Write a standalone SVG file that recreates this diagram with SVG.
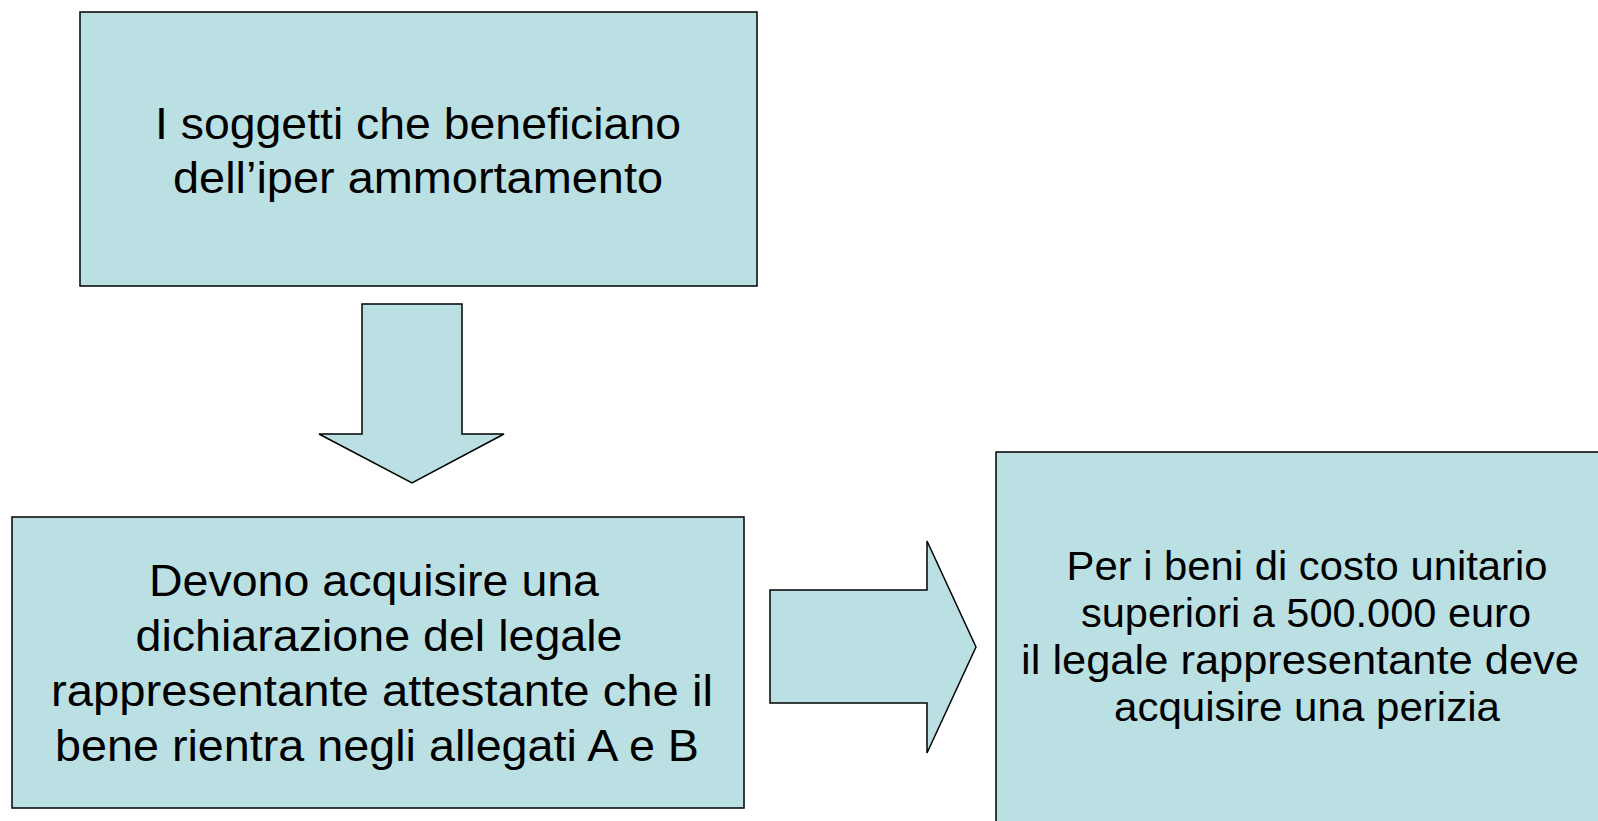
<svg xmlns="http://www.w3.org/2000/svg" width="1598" height="821" viewBox="0 0 1598 821">
<style>
.box{fill:#BBE0E3;stroke:#000;stroke-width:1.5}
.t{font-family:"Liberation Sans",Arial,sans-serif;fill:#000;text-anchor:middle}
.big{font-size:45px}
.small{font-size:41px}
</style>
<rect width="1598" height="821" fill="#fff"/>
<g id="connectors">
<polygon class="box" points="362,304 462,304 462,434 504,434 412,483 319,434 362,434"/>
<polygon class="box" points="770,590 927,590 927,541 976,647 927,753 927,703 770,703"/>
</g>
<g id="node1">
<rect class="box" x="80" y="12" width="677" height="274"/>
<text class="t big" x="418" y="139" textLength="526" lengthAdjust="spacingAndGlyphs">I soggetti che beneficiano</text>
<text class="t big" x="418" y="193" textLength="490" lengthAdjust="spacingAndGlyphs">dell’iper ammortamento</text>
</g>
<g id="node2">
<rect class="box" x="12" y="517" width="732" height="291"/>
<text class="t big" x="374" y="596" textLength="450" lengthAdjust="spacingAndGlyphs">Devono acquisire una</text>
<text class="t big" x="379" y="651" textLength="487" lengthAdjust="spacingAndGlyphs">dichiarazione del legale</text>
<text class="t big" x="382" y="706" textLength="662" lengthAdjust="spacingAndGlyphs">rappresentante attestante che il</text>
<text class="t big" x="377" y="761" textLength="644" lengthAdjust="spacingAndGlyphs">bene rientra negli allegati A e B</text>
</g>
<g id="node3">
<rect class="box" x="996" y="452" width="610" height="380"/>
<text class="t small" x="1307" y="580" textLength="481" lengthAdjust="spacingAndGlyphs">Per i beni di costo unitario</text>
<text class="t small" x="1306" y="627" textLength="450" lengthAdjust="spacingAndGlyphs">superiori a 500.000 euro</text>
<text class="t small" x="1300" y="674" textLength="558" lengthAdjust="spacingAndGlyphs">il legale rappresentante deve</text>
<text class="t small" x="1307" y="721" textLength="386" lengthAdjust="spacingAndGlyphs">acquisire una perizia</text>
</g>
</svg>
